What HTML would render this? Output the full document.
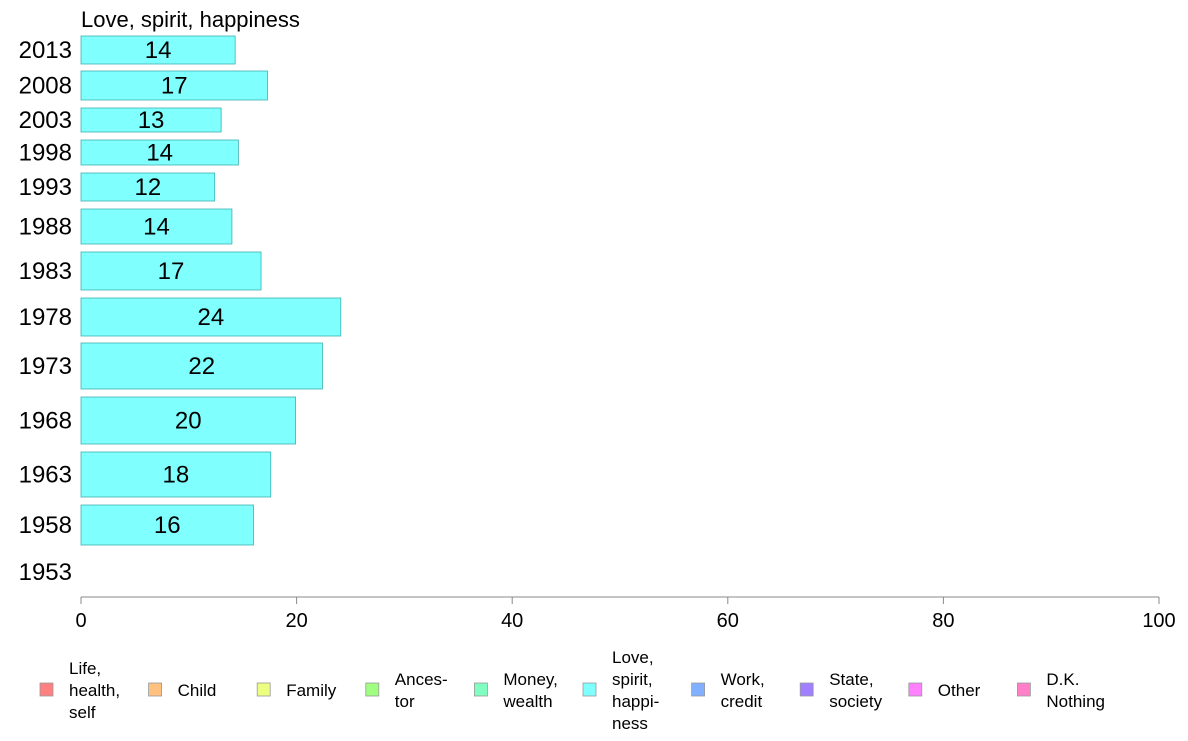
<!DOCTYPE html>
<html><head><meta charset="utf-8">
<style>
body{margin:0;background:#fff;font-family:"Liberation Sans",sans-serif;}
svg text{font-family:"Liberation Sans",sans-serif;}
</style></head>
<body>
<svg width="1188" height="736" viewBox="0 0 1188 736">
<text x="81" y="27" font-size="22" fill="#000">Love, spirit, happiness</text>
<g id="bars"></g>
<g id="axis"></g>
<g id="legend"></g>
</svg>
<script>
const years = ["2013","2008","2003","1998","1993","1988","1983","1978","1973","1968","1963","1958","1953"];
const values = [14.3, 17.3, 13.0, 14.6, 12.4, 14.0, 16.7, 24.1, 22.4, 19.9, 17.6, 16.0, null];
const labels = ["14","17","13","14","12","14","17","24","22","20","18","16",""];
const ticks = [0,20,40,60,80,100];
const legendLabels = [["Life,","health,","self"],["Child"],["Family"],["Ances-","tor"],["Money,","wealth"],["Love,","spirit,","happi-","ness"],["Work,","credit"],["State,","society"],["Other"],["D.K.","Nothing"]];
const legendColors = ["#ff8080","#ffc080","#ecff80","#a0ff80","#80ffc0","#80ffff","#80b0ff","#a080ff","#ff80ff","#ff80c8"];
// layout (row bands in pixels)
const rowTop = [36,71,108,140,173,209,252,298,343,397,452,505,560];
const rowH = [28,29,24,25,28,35,38,38,46,47,45,40,24];

const NS="http://www.w3.org/2000/svg";
const x0=81,x1=1159;
const xs=v=>x0+(x1-x0)*v/100;
const bars=document.getElementById('bars');
function mk(tag,attrs,parent){const e=document.createElementNS(NS,tag);for(const k in attrs)e.setAttribute(k,attrs[k]);parent.appendChild(e);return e;}
years.forEach((y,i)=>{
  const cy=rowTop[i]+rowH[i]/2;
  const t=mk('text',{x:72,y:cy+8,'font-size':24,'text-anchor':'end',fill:'#000'},bars);
  t.textContent=y;
  
  
  if(values[i]!=null){
    const r=mk('rect',{x:x0,y:rowTop[i],width:xs(values[i])-x0,height:rowH[i],fill:'#80ffff',stroke:'#40b0b0','stroke-width':0.8},bars);
    
    
    const l=mk('text',{x:(x0+xs(values[i]))/2,y:cy+8,'font-size':24,'text-anchor':'middle',fill:'#000'},bars);
    l.textContent=labels[i];
    
    
  }
});
const ax=document.getElementById('axis');
mk('line',{x1:x0,x2:x1,y1:597,y2:597,stroke:'#888','stroke-width':1},ax);
ticks.forEach(t=>{
  mk('line',{x1:xs(t),x2:xs(t),y1:597,y2:604,stroke:'#888','stroke-width':1},ax);
  const l=mk('text',{x:xs(t),y:627,'font-size':20,'text-anchor':'middle',fill:'#000'},ax);
  l.textContent=t;
  
  
});
const lg=document.getElementById('legend');
legendLabels.forEach((lines,i)=>{
  const bx=40+i*108.6;
  const g=mk('g',{},lg);
  
  
  mk('rect',{x:bx,y:683,width:13,height:13,fill:legendColors[i],stroke:'#999','stroke-width':0.8},g);
  const n=lines.length, lh=22, start=690-(n-1)*lh/2+6;
  lines.forEach((s,j)=>{
    const t=mk('text',{x:bx+29,y:start+j*lh,'font-size':17,fill:'#000'},g);
    t.textContent=s;
  });
});
</script>
</body></html>
